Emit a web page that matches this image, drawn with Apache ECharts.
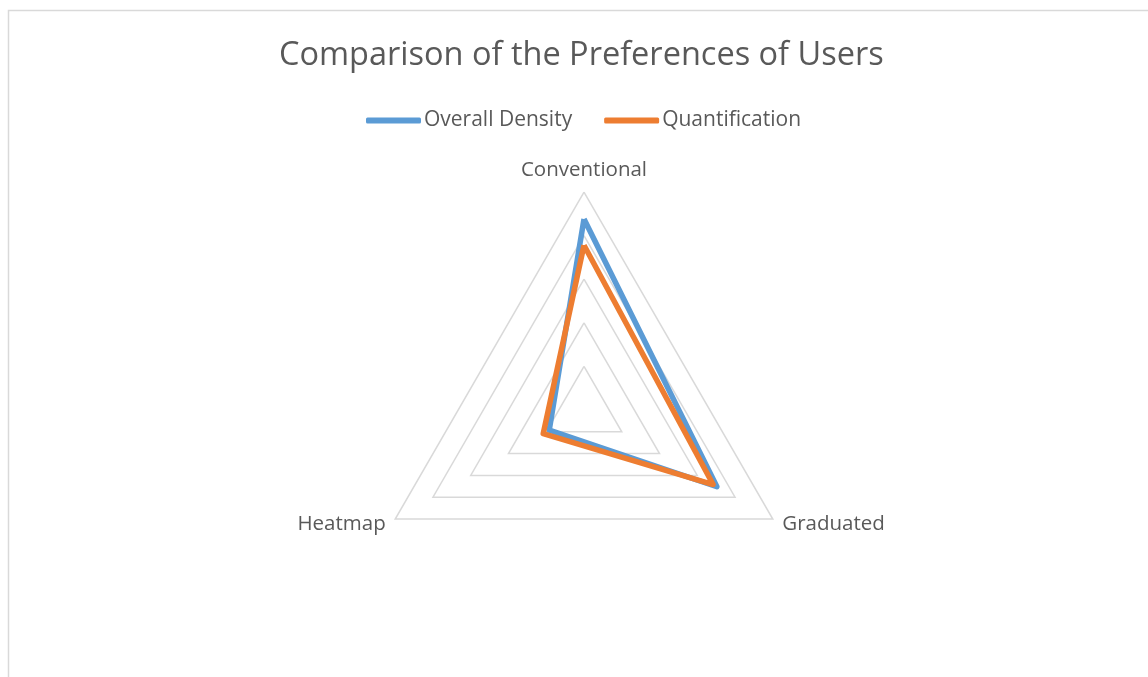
<!DOCTYPE html>
<html>
<head>
<meta charset="utf-8">
<script src="https://cdn.jsdelivr.net/npm/echarts@6/dist/echarts.min.js"></script>
<style>
  html, body { margin: 0; padding: 0; background: #fff; }
  #chart { width: 1148px; height: 677px; }
</style>
</head>
<body>
<div id="chart"></div>
<script>
// axes of the radar, first one sits at the top
var axisNames = ['Conventional', 'Heatmap', 'Graduated'];
var axisMax = 5;

// values
var overallDensity = [4.38, 0.92, 3.52];
var quantification = [3.78, 1.08, 3.42];

var seriesNames = ['Overall Density', 'Quantification'];
var seriesColors = ['#5B9BD5', '#ED7D31'];

var indicators = [];
for (var i = 0; i < axisNames.length; i++) {
    indicators.push({name: axisNames[i], max: axisMax, min: 0});
}

var chart = echarts.init(document.getElementById('chart'));
var option = {
    backgroundColor: '#fff',
    color: seriesColors,
    textStyle: {fontFamily: 'Open Sans'},
    title: {
        text: 'Comparison of the Preferences of Users',
        left: 274,
        top: 34,
        textStyle: {
            color: '#595959',
            fontSize: 32.5,
            fontWeight: 'normal',
            fontFamily: 'Open Sans'
        }
    },
    legend: {
        top: 105,
        left: 361,
        icon: 'roundRect',
        itemWidth: 55,
        itemHeight: 6,
        itemGap: 32,
        data: seriesNames,
        textStyle: {color: '#595959', fontSize: 21, padding: [0, 0, 0, -2]}
    },
    radar: {
        center: [584, 410],
        radius: 218,
        startAngle: 90,
        shape: 'polygon',
        splitNumber: 5,
        indicator: indicators,
        nameGap: 11,
        axisName: {color: '#595959', fontSize: 20.5},
        axisLine: {show: false},
        axisTick: {show: false},
        axisLabel: {show: false},
        splitArea: {show: false},
        splitLine: {lineStyle: {color: '#D9D9D9', width: 1.5}}
    },
    graphic: [{
        type: 'rect',
        silent: true,
        shape: {x: 8.5, y: 10.5, width: 1300, height: 900},
        style: {fill: null, stroke: '#D9D9D9', lineWidth: 1.5}
    }],
    series: [{
        type: 'radar',
        symbol: 'none',
        data: [
            {
                name: seriesNames[0],
                value: overallDensity,
                lineStyle: {width: 5.5, color: seriesColors[0], join: 'round'}
            },
            {
                name: seriesNames[1],
                value: quantification,
                lineStyle: {width: 5.5, color: seriesColors[1], join: 'round'}
            }
        ]
    }]
};
chart.setOption(option);
</script>
</body>
</html>
